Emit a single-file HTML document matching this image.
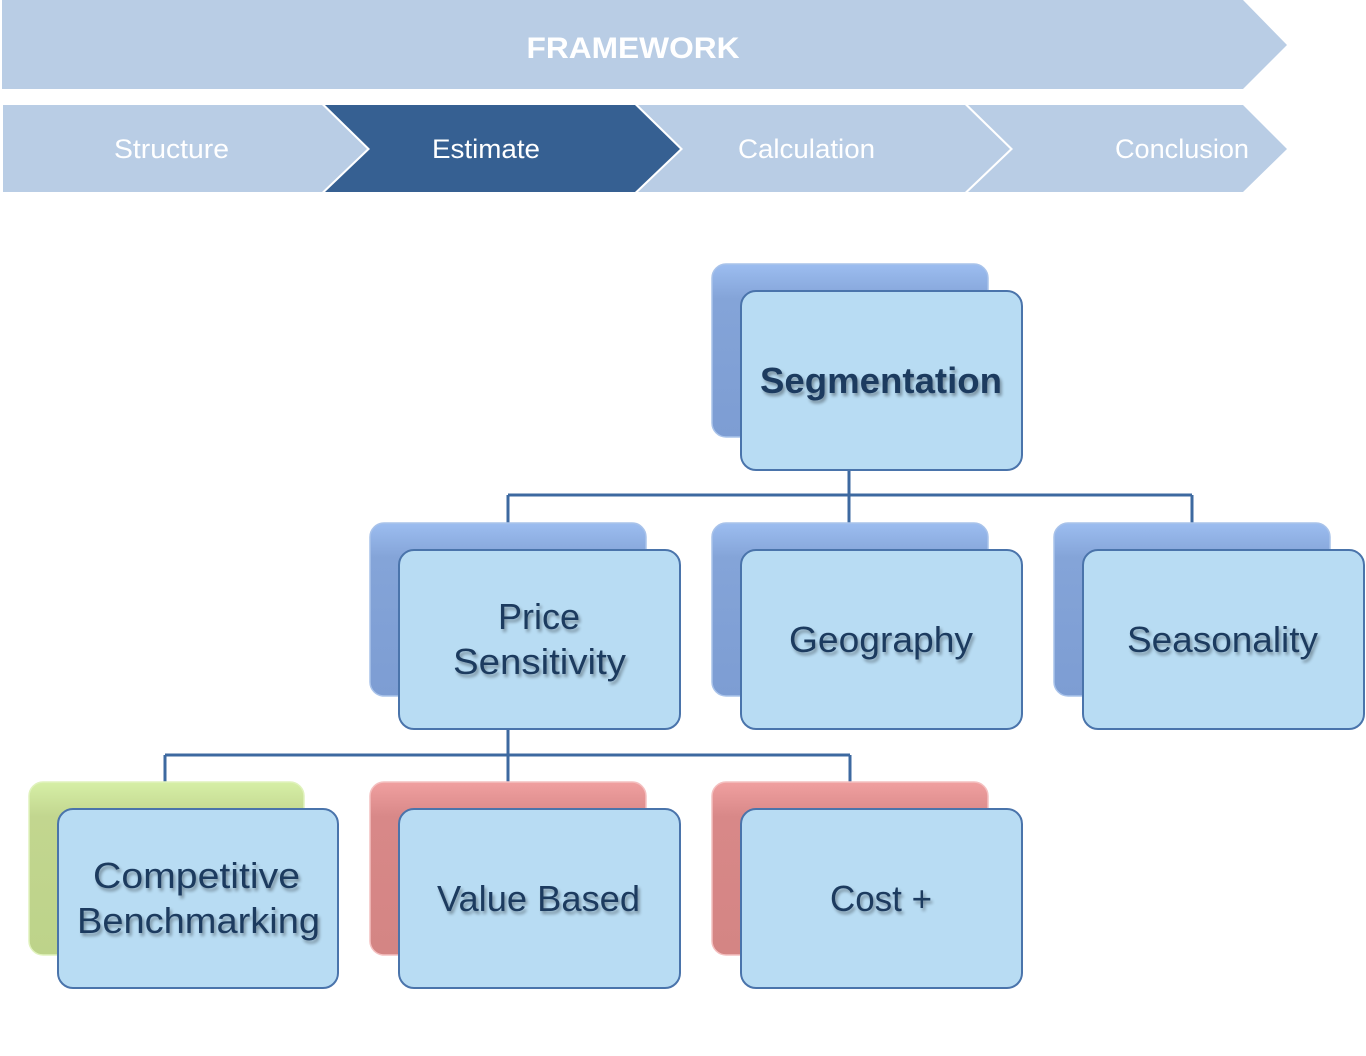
<!DOCTYPE html>
<html><head><meta charset="utf-8"><style>
html,body{margin:0;padding:0;background:#fff;}
svg{display:block;}
</style></head><body>
<svg width="1366" height="1056" viewBox="0 0 1366 1056" xmlns="http://www.w3.org/2000/svg">
<defs>
<linearGradient id="gb" x1="0" y1="0" x2="0" y2="1"><stop offset="0" stop-color="#9cbdf0"/><stop offset="0.2" stop-color="#84a4d8"/><stop offset="1" stop-color="#7d9dd3"/></linearGradient>
<linearGradient id="gg" x1="0" y1="0" x2="0" y2="1"><stop offset="0" stop-color="#d6efa6"/><stop offset="0.2" stop-color="#c2d68f"/><stop offset="1" stop-color="#bdd38a"/></linearGradient>
<linearGradient id="gr" x1="0" y1="0" x2="0" y2="1"><stop offset="0" stop-color="#f0a0a0"/><stop offset="0.2" stop-color="#d88888"/><stop offset="1" stop-color="#d48584"/></linearGradient>
<filter id="ts" x="-10%" y="-30%" width="120%" height="160%"><feGaussianBlur in="SourceAlpha" stdDeviation="1.5"/><feOffset dx="2" dy="3" result="b"/><feComponentTransfer><feFuncA type="linear" slope="0.35"/></feComponentTransfer><feMerge><feMergeNode/><feMergeNode in="SourceGraphic"/></feMerge></filter>
</defs>
<polygon points="2,0 1243,0 1287,45 1243,89 2,89" fill="#b9cde5"/>
<text x="633" y="58" text-anchor="middle" font-family="Liberation Sans,sans-serif" font-weight="bold" font-size="30" fill="#fff" textLength="213" lengthAdjust="spacingAndGlyphs">FRAMEWORK</text>
<polygon points="3,105 322,105 367,149 322,192 3,192" fill="#b9cde5"/>
<polygon points="325,105 635,105 680,149 635,192 325,192 370,149" fill="#366092"/>
<polygon points="638,105 965,105 1010,149 965,192 638,192 683,149" fill="#b9cde5"/>
<polygon points="968,105 1243,105 1287,149 1243,192 968,192 1013,149" fill="#b9cde5"/>
<g font-family="Liberation Sans,sans-serif" font-size="27" fill="#fff" lengthAdjust="spacingAndGlyphs">
<text x="114" y="158" textLength="115" lengthAdjust="spacingAndGlyphs">Structure</text>
<text x="432" y="158" textLength="108" lengthAdjust="spacingAndGlyphs">Estimate</text>
<text x="738" y="158" textLength="137" lengthAdjust="spacingAndGlyphs">Calculation</text>
<text x="1115" y="158" textLength="134" lengthAdjust="spacingAndGlyphs">Conclusion</text>
</g>
<g stroke="#3d69a0" stroke-width="3" fill="none">
<polyline points="849,470 849,495"/><line x1="508" y1="495" x2="1192" y2="495"/>
<line x1="508" y1="495" x2="508" y2="523"/><line x1="849" y1="495" x2="849" y2="523"/><line x1="1192" y1="495" x2="1192" y2="523"/>
<line x1="508" y1="729" x2="508" y2="755"/><line x1="165" y1="755" x2="850" y2="755"/>
<line x1="165" y1="755" x2="165" y2="782"/><line x1="508" y1="755" x2="508" y2="782"/><line x1="850" y1="755" x2="850" y2="782"/>
</g>
<g stroke="#a9c3ea" stroke-width="1.5">
<rect x="712" y="264" width="276" height="173" rx="14" fill="url(#gb)"/>
<rect x="370" y="523" width="276" height="173" rx="14" fill="url(#gb)"/>
<rect x="712" y="523" width="276" height="173" rx="14" fill="url(#gb)"/>
<rect x="1054" y="523" width="276" height="173" rx="14" fill="url(#gb)"/>
<rect x="29" y="782" width="275" height="173" rx="14" fill="url(#gg)" stroke="#e0f2bd"/>
<rect x="370" y="782" width="276" height="173" rx="14" fill="url(#gr)" stroke="#f4c0c0"/>
<rect x="712" y="782" width="276" height="173" rx="14" fill="url(#gr)" stroke="#f4c0c0"/>
</g>
<g fill="#b8dcf3" stroke="#4a74ab" stroke-width="2">
<rect x="741" y="291" width="281" height="179" rx="15"/>
<rect x="399" y="550" width="281" height="179" rx="15"/>
<rect x="741" y="550" width="281" height="179" rx="15"/>
<rect x="1083" y="550" width="281" height="179" rx="15"/>
<rect x="58" y="809" width="280" height="179" rx="15"/>
<rect x="399" y="809" width="281" height="179" rx="15"/>
<rect x="741" y="809" width="281" height="179" rx="15"/>
</g>
<g font-family="Liberation Sans,sans-serif" font-size="36" fill="#1f3b5e" filter="url(#ts)">
<text x="760" y="393" font-weight="bold" textLength="242" lengthAdjust="spacingAndGlyphs">Segmentation</text>
<text x="498" y="629" textLength="82" lengthAdjust="spacingAndGlyphs">Price</text>
<text x="453" y="674" textLength="173" lengthAdjust="spacingAndGlyphs">Sensitivity</text>
<text x="789" y="652" textLength="184" lengthAdjust="spacingAndGlyphs">Geography</text>
<text x="1127" y="652" textLength="191" lengthAdjust="spacingAndGlyphs">Seasonality</text>
<text x="93" y="888" textLength="207" lengthAdjust="spacingAndGlyphs">Competitive</text>
<text x="77" y="933" textLength="243" lengthAdjust="spacingAndGlyphs">Benchmarking</text>
<text x="437" y="911" textLength="203" lengthAdjust="spacingAndGlyphs">Value Based</text>
<text x="830" y="911" textLength="102" lengthAdjust="spacingAndGlyphs">Cost +</text>
</g>
</svg>
</body></html>
